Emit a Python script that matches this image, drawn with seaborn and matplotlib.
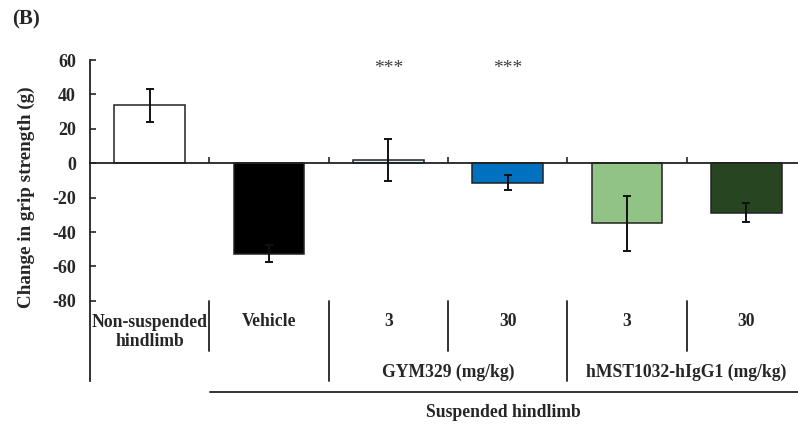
import matplotlib
matplotlib.use("Agg")
import matplotlib.pyplot as plt
import seaborn as sns
import pandas as pd
import numpy as np

# ---- data ----
categories = ["Non-suspended\nhindlimb", "Vehicle", "GYM 3", "GYM 30", "hMST 3", "hMST 30"]
cat_labels = ["Non-suspended\nhindlimb", "Vehicle", "3", "30", "3", "30"]
values = [33.7, -52.5, 1.8, -11.3, -35.0, -28.7]
errors = [9.5, 5.0, 12.2, 4.2, 16.0, 5.4]
colors = ["#ffffff", "#000000", "#d9ebf3", "#0070c0", "#91c384", "#284522"]
stars = ["", "", "***", "***", "", ""]
group_labels = ["GYM329 (mg/kg)", "hMST1032-hIgG1 (mg/kg)"]
outer_label = "Suspended hindlimb"
yticks = [60, 40, 20, 0, -20, -40, -60, -80]

sns.set_style("white")
plt.rcParams["font.family"] = ["Liberation Serif", "DejaVu Serif"]
plt.rcParams["font.weight"] = "bold"

df = pd.DataFrame({"cat": categories, "val": values})

fig = plt.figure(figsize=(7.98, 4.24), dpi=100)
ax = fig.add_axes([90 / 798, 1 - 381 / 424, 716 / 798, 321 / 424])

sns.barplot(data=df, x="cat", y="val", hue="cat", palette=colors, legend=False,
            saturation=1, width=0.59, edgecolor="#222222", linewidth=1.1, ax=ax,
            zorder=2)
x = np.arange(len(categories))
ax.errorbar(x, values, yerr=errors, fmt="none", ecolor="#111111", elinewidth=1.4,
            capsize=3, capthick=1.4, zorder=3)

ax.set_xlim(-0.5, len(categories) - 0.5)
ax.set_ylim(-126.6, 60)
ax.set_yticks(yticks)
ax.set_yticklabels([str(t) for t in yticks], fontsize=13, fontweight="bold")
ax.tick_params(axis="y", direction="in", length=4, width=1.2, pad=10, left=True)

# x axis at zero with boundary ticks
ax.spines["bottom"].set_position(("data", 0))
ax.spines["top"].set_visible(False)
ax.spines["right"].set_visible(False)
for s in ["left", "bottom"]:
    ax.spines[s].set_linewidth(1.3)
    ax.spines[s].set_color("#222222")
ax.set_xticks(np.arange(len(categories) - 1) + 0.5)
ax.set_xticklabels([])
ax.tick_params(axis="x", direction="in", length=4, width=1.2, bottom=True)
ax.set_xlabel("")
ax.set_ylabel("")

# stars
for xi, s in enumerate(stars):
    if s:
        ax.text(xi, 55.0, s, ha="center", va="center", fontsize=14,
                fontweight="normal", color="#404040")

fs = 12.7
# category table below
for xi, lab in enumerate(cat_labels):
    yy = -98 if "\n" in lab else -92.3
    ax.text(xi, yy, lab, ha="center", va="center", fontsize=fs, fontweight="bold",
            linespacing=1.15, clip_on=False)
for b in np.arange(len(categories) - 1) + 0.5:
    yb = -126.6 if b in (1.5, 3.5) else -109.0
    ax.plot([b, b], [-80, yb], color="#222222", lw=1.3, clip_on=False)
ax.text(2.5, -121.7, group_labels[0], ha="center", va="center", fontsize=fs,
        fontweight="bold", clip_on=False)
ax.text(4.5, -121.7, group_labels[1], ha="center", va="center", fontsize=fs,
        fontweight="bold", clip_on=False)
ax.plot([0.505, 6.0], [-133.0, -133.0], color="#222222", lw=1.3, clip_on=False)
ax.text(2.96, -145.0, outer_label, ha="center", va="center", fontsize=fs,
        fontweight="bold", clip_on=False)

fig.text(26 / 798, 1 - 197 / 424, "Change in grip strength (g)", rotation=90,
         ha="center", va="center", fontsize=13.8, fontweight="bold")
fig.text(26 / 798, 1 - 19 / 424, "(B)", ha="center", va="center", fontsize=15,
         fontweight="bold")

fig.savefig("out.png", dpi=100)
